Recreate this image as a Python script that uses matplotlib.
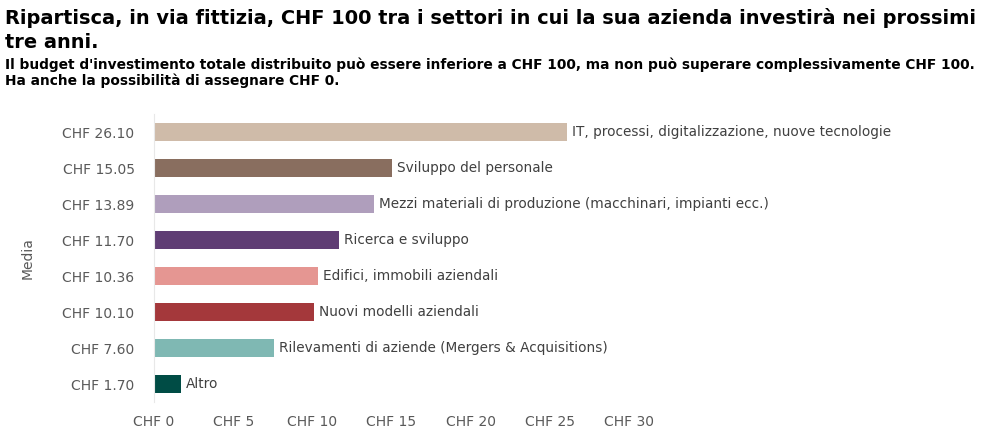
import matplotlib
matplotlib.use("Agg")
from matplotlib import pyplot as plt

# data, top to bottom
categories = ["IT, processi, digitalizzazione, nuove tecnologie",
              "Sviluppo del personale",
              "Mezzi materiali di produzione (macchinari, impianti ecc.)",
              "Ricerca e sviluppo",
              "Edifici, immobili aziendali",
              "Nuovi modelli aziendali",
              "Rilevamenti di aziende (Mergers & Acquisitions)",
              "Altro"]
values = [26.10, 15.05, 13.89, 11.70, 10.36, 10.10, 7.60, 1.70]
colors = ["#CFBBA9", "#896E5F", "#AF9EBC", "#5F3D74",
          "#E59692", "#A4383B", "#7FB8B3", "#004C45"]
xticks = [0, 5, 10, 15, 20, 25, 30]

title = ("Ripartisca, in via fittizia, CHF 100 tra i settori in cui la sua azienda investirà nei prossimi\n"
         "tre anni.")
subtitle = ("Il budget d'investimento totale distribuito può essere inferiore a CHF 100, ma non può superare complessivamente CHF 100.\n"
            "Ha anche la possibilità di assegnare CHF 0.")

grey = "#595959"

fig = plt.figure(figsize=(9.92, 4.43), dpi=100)
ax = fig.add_axes([154/992, 1 - 402/443, (985-154)/992, (402-114)/443])

y = list(range(len(values)))
ax.barh(y, values, height=0.5, color=colors)
for yi, v, lab in zip(y, values, categories):
    ax.text(v + 0.3, yi, lab, va="center", ha="left", fontsize=9.8, color="#404040")

ax.set_yticks(y)
ax.set_yticklabels(["CHF %.2f" % v for v in values])
ax.set_xticks(xticks)
ax.set_xticklabels(["CHF %d" % t for t in xticks])
ax.set_xlim(0, 52.5)
ax.set_ylim(len(values) - 0.5, -0.5)
ax.tick_params(axis="both", length=0, labelsize=10, colors=grey)
ax.tick_params(axis="y", pad=14)
ax.tick_params(axis="x", pad=9)
for s in ["top", "right", "bottom"]:
    ax.spines[s].set_visible(False)
ax.spines["left"].set_color("#E8E8E8")
ax.set_ylabel("Media", fontsize=10, color=grey, labelpad=20)

fig.text(5/992, 1 - 8/443, title, ha="left", va="top", fontsize=13.95,
         fontweight="bold", color="black", linespacing=1.3)
fig.text(5/992, 1 - 57/443, subtitle, ha="left", va="top", fontsize=9.95,
         fontweight="bold", color="black", linespacing=1.2)

plt.savefig("out.png", dpi=100)
